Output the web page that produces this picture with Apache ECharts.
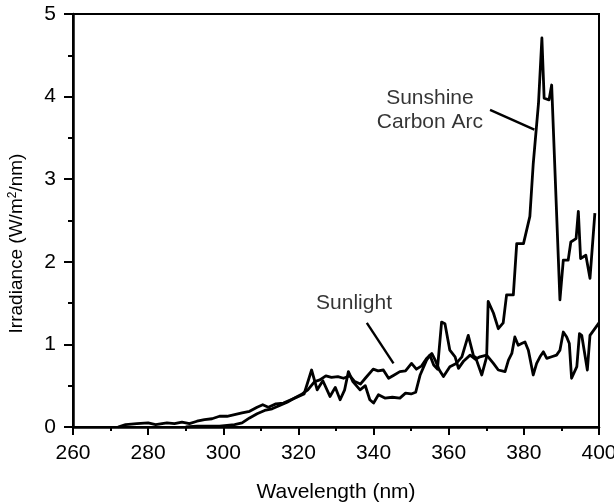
<!DOCTYPE html>
<html>
<head>
<meta charset="utf-8">
<script src="https://cdn.jsdelivr.net/npm/echarts@6/dist/echarts.min.js"></script>
<style>html,body{margin:0;padding:0;background:#fff}#c{width:614px;height:504px}</style>
</head>
<body>
<div id="c"></div>
<script>
// Sunshine Carbon Arc spectrum: wavelength (nm) and irradiance (W/m²/nm)
const arcWl = [272,274,277,280,282,285,287,289,291,293,295,297,299,301,303,305,307,309,310.5,312,314,316,318,320,321.5,323.5,325,326.5,328.4,329.8,331.1,332.3,333.3,334.5,336.4,337.8,339,340,341.3,343,345,347,348.5,350,351.2,352.4,354.1,355,356,357,358.1,359,360.3,361.7,362.6,364,365.7,367.4,368.8,370.1,370.5,371.9,373.2,374.5,375.4,377.2,378.1,379.9,381.6,382.5,383.9,384.8,385.4,386.7,387.4,389.6,390.5,391.8,392.5,393.9,394.5,395.1,396.5,397.6,398.9];
const arcIrr = [0,0.03,0.04,0.05,0.03,0.05,0.04,0.06,0.04,0.07,0.09,0.10,0.13,0.13,0.15,0.17,0.19,0.24,0.27,0.24,0.28,0.29,0.33,0.37,0.40,0.69,0.45,0.56,0.37,0.48,0.33,0.45,0.67,0.55,0.45,0.50,0.33,0.29,0.39,0.35,0.36,0.35,0.41,0.40,0.42,0.63,0.81,0.87,0.75,0.70,1.27,1.25,0.93,0.85,0.71,0.80,0.87,0.81,0.63,0.85,1.52,1.38,1.19,1.26,1.60,1.60,2.22,2.22,2.55,3.19,3.92,4.71,3.98,3.96,4.14,1.54,2.02,2.02,2.24,2.28,2.61,2.04,2.08,1.80,2.59];
// Sunlight spectrum
const sunWl = [290,293,296,299,301,303,305,307,309,311,313,315,317,319,321,322.5,324.3,325.7,327.3,328.8,330.5,332,333.7,335,336.5,337.8,339.9,341.2,342.6,344,345.5,347,348.5,350.1,351.4,352.8,354.1,355.5,356.5,357.5,358.6,360.3,362,363.5,365.2,366.6,367.5,368.3,370.1,371.9,373.2,375,375.9,376.8,377.6,378.5,379.4,380.3,381.2,382.5,383.4,384.3,385.2,386.1,387.4,388.7,389.6,390.5,391.4,392.1,392.7,394.1,394.8,395.4,396.9,397.6,398.9,400];
const sunIrr = [0,0.01,0.01,0.01,0.02,0.03,0.05,0.11,0.16,0.20,0.22,0.26,0.30,0.35,0.40,0.45,0.55,0.57,0.62,0.60,0.61,0.59,0.62,0.55,0.52,0.59,0.70,0.68,0.69,0.59,0.63,0.67,0.68,0.77,0.70,0.74,0.83,0.89,0.80,0.69,0.61,0.73,0.77,0.85,1.11,0.86,0.83,0.85,0.87,0.77,0.69,0.67,0.81,0.89,1.09,0.99,1.01,1.03,0.93,0.63,0.77,0.85,0.91,0.83,0.85,0.87,0.93,1.15,1.09,1.01,0.59,0.73,1.13,1.11,0.69,1.11,1.19,1.26];
// Axis ticks
const xTicks = [260,280,300,320,340,360,380,400];
const yTicks = [0,1,2,3,4,5];
// Annotations (data coordinates)
const arcLabel = {text:'Sunshine\nCarbon Arc', at:[355.0,3.83]};
const arcPointer = [[371.0,3.84],[382.8,3.60]];
const sunLabel = {text:'Sunlight', at:[334.8,1.50]};
const sunPointer = [[338.2,1.26],[345.3,0.77]];

const FONT = "'Liberation Sans', Arial, Helvetica, sans-serif";
const zip = (a,b) => a.map((v,i)=>[v,b[i]]);
const chart = echarts.init(document.getElementById('c'), null, {renderer:'canvas'});
const lineBase = {type:'line', showSymbol:false, symbol:'none', animation:false, silent:true, lineStyle:{color:'#000', width:2.8, join:'round'}, z:3};
chart.setOption({
  backgroundColor:'#fff',
  animation:false,
  grid:{left:73, right:15, top:14, bottom:77, outerBoundsMode:'none', containLabel:false, show:true, borderColor:'#000', borderWidth:2, backgroundColor:'transparent'},
  xAxis:{type:'value', min:xTicks[0], max:xTicks[xTicks.length-1], interval:xTicks[1]-xTicks[0],
    name:'Wavelength (nm)', nameLocation:'middle', nameGap:55,
    nameTextStyle:{fontFamily:FONT, fontSize:21, color:'#000'},
    axisLine:{show:true, onZero:false, lineStyle:{color:'#000', width:2.5}},
    axisTick:{show:true, length:8, lineStyle:{color:'#000', width:2}},
    minorTick:{show:true, splitNumber:2, length:4, lineStyle:{color:'#000', width:2}},
    axisLabel:{fontFamily:FONT, fontSize:21, color:'#000', margin:16},
    splitLine:{show:false}},
  yAxis:{type:'value', min:yTicks[0], max:yTicks[yTicks.length-1], interval:1,
    name:'Irradiance (W/m{sup|2}/nm)', nameLocation:'middle', nameGap:46,
    nameTextStyle:{fontFamily:FONT, fontSize:19, color:'#000', padding:[0,46,0,0],
      rich:{sup:{fontFamily:FONT, fontSize:12, color:'#000', verticalAlign:'top', padding:[0,0,8,0]}}},
    axisLine:{show:true, onZero:false, lineStyle:{color:'#000', width:2.5}},
    axisTick:{show:true, length:9, lineStyle:{color:'#000', width:2}},
    minorTick:{show:true, splitNumber:2, length:5, lineStyle:{color:'#000', width:2}},
    axisLabel:{fontFamily:FONT, fontSize:21, color:'#000', margin:17},
    splitLine:{show:false}},
  series:[
    Object.assign({}, lineBase, {name:'Sunshine Carbon Arc', data:zip(arcWl, arcIrr)}),
    Object.assign({}, lineBase, {name:'Sunlight', data:zip(sunWl, sunIrr)}),
    Object.assign({}, lineBase, {name:'arcPointer', data:arcPointer, lineStyle:{color:'#000', width:2.4}}),
    Object.assign({}, lineBase, {name:'sunPointer', data:sunPointer, lineStyle:{color:'#000', width:2.4}}),
    {type:'scatter', silent:true, animation:false, symbolSize:0,
     data:[{value:arcLabel.at, label:{formatter:arcLabel.text}}, {value:sunLabel.at, label:{formatter:sunLabel.text}}],
     label:{show:true, position:'inside', color:'#000', fontFamily:FONT, fontSize:21, lineHeight:24, align:'center', verticalAlign:'middle'}}
  ]
});
</script>
</body>
</html>
